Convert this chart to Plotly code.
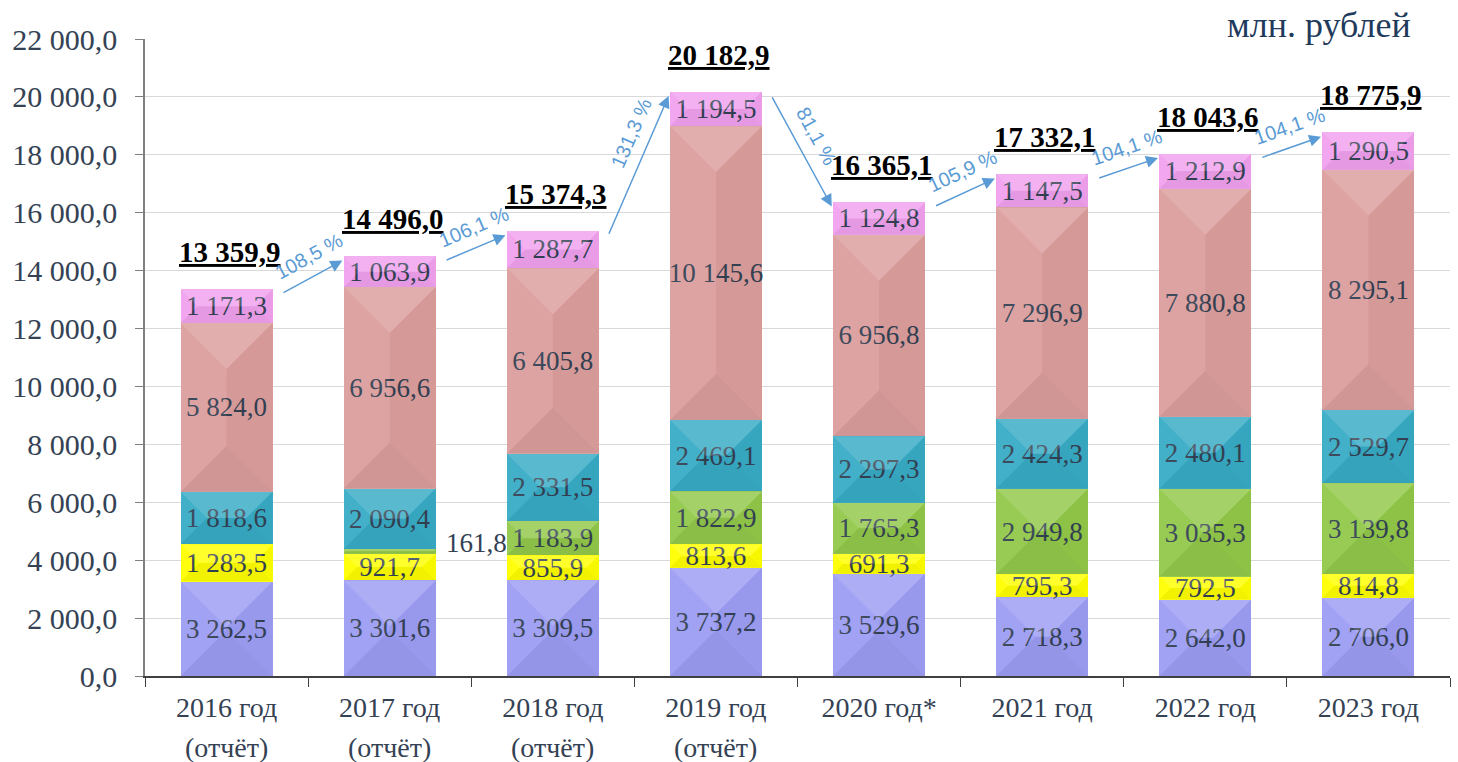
import math
import plotly.graph_objects as go

# ---------------- data ----------------
category_years = ["2016 год", "2017 год", "2018 год", "2019 год",
                  "2020 год*", "2021 год", "2022 год", "2023 год"]
category_notes = ["(отчёт)", "(отчёт)", "(отчёт)", "(отчёт)", "", "", "", ""]
series_1 = [3262.5, 3301.6, 3309.5, 3737.2, 3529.6, 2718.3, 2642.0, 2706.0]
series_2 = [1283.5, 921.7, 855.9, 813.6, 691.3, 795.3, 792.5, 814.8]
series_3 = [None, 161.8, 1183.9, 1822.9, 1765.3, 2949.8, 3035.3, 3139.8]
series_4 = [1818.6, 2090.4, 2331.5, 2469.1, 2297.3, 2424.3, 2480.1, 2529.7]
series_5 = [5824.0, 6956.6, 6405.8, 10145.6, 6956.8, 7296.9, 7880.8, 8295.1]
series_6 = [1171.3, 1063.9, 1287.7, 1194.5, 1124.8, 1147.5, 1212.9, 1290.5]
totals = [13359.9, 14496.0, 15374.3, 20182.9, 16365.1, 17332.1, 18043.6, 18775.9]
growth = ["108,5 %", "106,1 %", "131,3 %", "81,1 %", "105,9 %", "104,1 %", "104,1 %"]
unit_label = "млн. рублей"

# ---------------- style ----------------
colors = ["#9d9df5", "#ffff00", "#92c94a", "#38acc6", "#dc9e9d", "#f2a2ef"]
TXT = "#344254"
SERIF = "Liberation Serif"
W, H = 1458, 762
ML, MR, MT, MB = 145, 8, 39, 86
YMAX = 22000
BARGAP = 0.436
plot_h = H - MT - MB
px_per_cat = (W - ML - MR) / len(category_years)
px_per_val = plot_h / YMAX
SMALL = 400
XTICK_SIZE = 28


def fmt(v):
    return f"{v:,.1f}".replace(",", " ").replace(".", ",")


all_series = [series_1, series_2, series_3, series_4, series_5, series_6]

fig = go.Figure()
for s, c in zip(all_series, colors):
    labels = ["" if (v is None or v < SMALL) else fmt(v) for v in s]
    fig.add_trace(go.Bar(
        x=category_years, y=s, marker=dict(color=c, line=dict(width=0)),
        text=labels, textposition="inside", insidetextanchor="middle",
        textangle=0, constraintext="none",
        textfont=dict(family=SERIF, size=27, color=TXT),
        hoverinfo="skip", showlegend=False,
    ))

# soft pyramid-like bevel shading + labels for small segments
half_w = (1 - BARGAP) / 2
half_w_px = half_w * px_per_cat
shapes = []
bases = [0.0] * len(category_years)
for s in all_series:
    for i, v in enumerate(s):
        if v is None:
            continue
        yb, yt = bases[i], bases[i] + v
        xl, xr = i - half_w, i + half_w
        h_px = v * px_per_val
        d_px = min(half_w_px, h_px / 2)
        dx = d_px / px_per_cat
        dy = d_px / px_per_val
        faces = [
            ([(xl, yt), (xr, yt), (xr - dx, yt - dy), (xl + dx, yt - dy)], "rgba(255,255,255,0.17)"),
            ([(xl, yb), (xr, yb), (xr - dx, yb + dy), (xl + dx, yb + dy)], "rgba(0,0,0,0.05)"),
            ([(xl, yb), (xl, yt), (xl + dx, yt - dy), (xl + dx, yb + dy)], "rgba(255,255,255,0.05)"),
            ([(xr, yb), (xr, yt), (xr - dx, yt - dy), (xr - dx, yb + dy)], "rgba(0,0,0,0.03)"),
        ]
        for pts, fc in faces:
            path = "M " + " L ".join(f"{px},{py}" for px, py in pts) + " Z"
            shapes.append(dict(type="path", path=path, xref="x", yref="y",
                               fillcolor=fc, line=dict(width=0), layer="above"))
        if v < SMALL:
            fig.add_annotation(x=i + 0.33, y=yb + v / 2, xref="x", yref="y",
                               text=fmt(v), showarrow=False, xanchor="left",
                               yanchor="middle", yshift=8,
                               font=dict(family=SERIF, size=27, color=TXT))
        bases[i] = yt

# second line of the category labels
for i, note in enumerate(category_notes):
    if note:
        fig.add_annotation(x=i, y=-71 / plot_h, xref="x", yref="paper", text=note,
                           showarrow=False, yanchor="middle", borderpad=0,
                           font=dict(family=SERIF, size=XTICK_SIZE, color=TXT))

# totals
for i, t in enumerate(totals):
    fig.add_annotation(x=i, y=t, xref="x", yref="y", text=f"<b>{fmt(t)}</b>",
                       showarrow=False, yanchor="middle", yshift=37, xshift=3,
                       font=dict(family=SERIF, size=29, color="black",
                                 lineposition="under"))

# growth arrows
for i, g in enumerate(growth):
    x0, y0 = i + 0.34, totals[i] - 150
    x1, y1 = i + 0.71, totals[i + 1] - 150
    fig.add_annotation(x=x1, y=y1, ax=x0, ay=y0, xref="x", yref="y",
                       axref="x", ayref="y", text="", showarrow=True,
                       arrowhead=2, arrowsize=1.6, arrowwidth=1.5,
                       arrowcolor="#5b9bd5", standoff=0)
    ddx = (x1 - x0) * px_per_cat
    ddy = -(y1 - y0) * px_per_val
    L = math.hypot(ddx, ddy)
    ang = math.degrees(math.atan2(ddy, ddx))
    ux, uy = ddx / L, ddy / L
    nx, ny = uy, -ux
    off_n = 20
    off_t = 6 + 30 * max(0.0, -uy) ** 4 if uy < 0 else -6
    sx = nx * off_n + ux * off_t
    sy = ny * off_n + uy * off_t
    fig.add_annotation(x=(x0 + x1) / 2, y=(y0 + y1) / 2, xref="x", yref="y",
                       text=g, showarrow=False, textangle=ang,
                       xshift=sx, yshift=-sy,
                       font=dict(family="Liberation Sans", size=20, color="#5b9bd5"))

fig.add_annotation(x=0.972, y=1.022, xref="paper", yref="paper", text=unit_label,
                   showarrow=False, xanchor="right", yanchor="middle",
                   font=dict(family=SERIF, size=36, color="#1f3b5c"))

fig.update_layout(
    width=W, height=H, barmode="stack", bargap=BARGAP,
    margin=dict(l=ML, r=MR, t=MT, b=MB, autoexpand=False),
    plot_bgcolor="white", paper_bgcolor="white",
    separators=", ",
    shapes=shapes,
    xaxis=dict(type="category", tickson="boundaries", ticks="outside", ticklen=9,
               tickcolor="#404040", showline=True, linecolor="#404040", linewidth=1.5,
               showgrid=False, ticklabelstandoff=6, automargin=False,
               tickfont=dict(family=SERIF, size=XTICK_SIZE, color=TXT)),
    yaxis=dict(range=[0, YMAX], dtick=2000, tickformat=",.1f", showgrid=True,
               gridcolor="#d9d9d9", gridwidth=1, ticks="outside", ticklen=8,
               tickcolor="#808080", showline=True, linecolor="#808080", linewidth=1.5,
               zeroline=False, ticklabelstandoff=12, automargin=False,
               tickfont=dict(family=SERIF, size=30, color=TXT)),
)

fig.write_html("out.html", config={"displayModeBar": False},
               post_script="document.body.style.margin='0';")
